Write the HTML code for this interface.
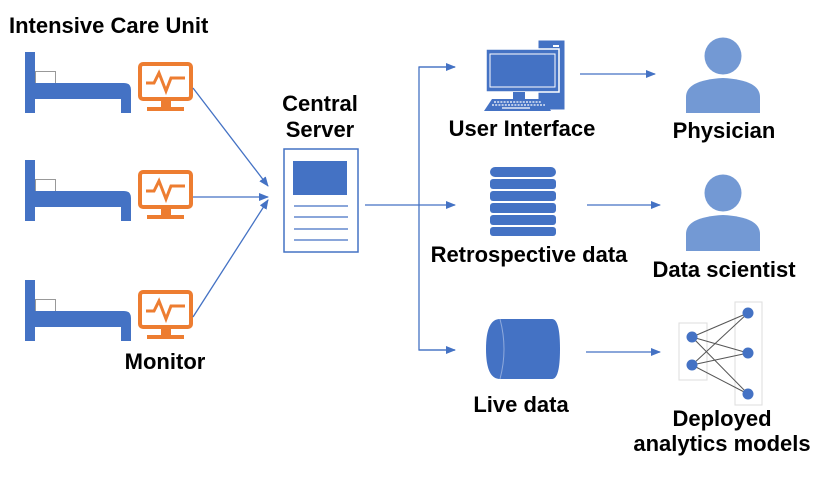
<!DOCTYPE html>
<html><head><meta charset="utf-8"><style>
html,body{margin:0;padding:0;background:#fff;width:830px;height:480px;overflow:hidden}
text{font-family:"Liberation Sans",Arial,sans-serif;font-weight:bold;font-size:22px;fill:#000}
</style></head><body>
<svg width="830" height="480" viewBox="0 0 830 480" xmlns="http://www.w3.org/2000/svg">
<defs>
<marker id="ah" markerWidth="10" markerHeight="8" refX="9" refY="4" orient="auto" markerUnits="userSpaceOnUse">
<path d="M0,0 L10,4 L0,8 Z" fill="#4472c4"/></marker>
<g id="bed">
<rect x="25" y="0" width="10" height="61" fill="#4472c4"/>
<rect x="35.5" y="19.5" width="20" height="12" fill="#fff" stroke="#999" stroke-width="1"/>
<path d="M35,31 H124 Q131,31 131,38 V47 H35 Z" fill="#4472c4"/>
<rect x="121" y="47" width="10" height="14" fill="#4472c4"/>
</g>
<g id="mon">
<rect x="140" y="14" width="51" height="35" rx="3" fill="none" stroke="#ed7d31" stroke-width="4"/>
<path d="M146,33 H154 L159,23 L166,41 L171,28 H185" fill="none" stroke="#ed7d31" stroke-width="3"/>
<rect x="161" y="50" width="10" height="8" fill="#ed7d31"/>
<rect x="147" y="57" width="37" height="4" fill="#ed7d31"/>
</g>
</defs>

<text x="9" y="33">Intensive Care Unit</text>
<g transform="translate(0,52)"><use href="#bed"/><use href="#mon" transform="translate(0,-2)"/></g>
<g transform="translate(0,160)"><use href="#bed"/><use href="#mon" transform="translate(0,-2)"/></g>
<g transform="translate(0,280)"><use href="#bed"/><use href="#mon" transform="translate(0,-2)"/></g>
<text x="165" y="369" text-anchor="middle">Monitor</text>

<g stroke="#4472c4" stroke-width="1.3" fill="none">
<line x1="193" y1="88" x2="268" y2="186" marker-end="url(#ah)"/>
<line x1="193" y1="197" x2="268" y2="197" marker-end="url(#ah)"/>
<line x1="193" y1="317" x2="268" y2="200" marker-end="url(#ah)"/>
<line x1="365" y1="205" x2="455" y2="205" marker-end="url(#ah)"/>
<polyline points="455,67 419,67 419,350 455,350" />
<line x1="419" y1="67" x2="455" y2="67" marker-end="url(#ah)"/>
<line x1="419" y1="350" x2="455" y2="350" marker-end="url(#ah)"/>
<line x1="580" y1="74" x2="655" y2="74" marker-end="url(#ah)"/>
<line x1="587" y1="205" x2="660" y2="205" marker-end="url(#ah)"/>
<line x1="586" y1="352" x2="660" y2="352" marker-end="url(#ah)"/>
</g>

<text x="320" y="111" text-anchor="middle">Central</text>
<text x="320" y="137" text-anchor="middle">Server</text>
<rect x="284" y="149" width="74" height="103" fill="#fff" stroke="#4472c4" stroke-width="1.5"/>
<rect x="293" y="161" width="54" height="34" fill="#4472c4"/>
<g stroke="#4472c4" stroke-width="1.3">
<line x1="294" y1="206" x2="348" y2="206"/><line x1="294" y1="217" x2="348" y2="217"/>
<line x1="294" y1="229" x2="348" y2="229"/><line x1="294" y1="240" x2="348" y2="240"/></g>

<!-- computer -->
<rect x="538" y="40" width="27" height="70" fill="#4472c4" stroke="#fff"/>
<rect x="553" y="45" width="6" height="2" fill="#fff"/><rect x="553" y="49" width="6" height="2" fill="#fff"/>
<rect x="486" y="49" width="73" height="43" fill="#4472c4" stroke="#fff" stroke-width="1.5"/>
<rect x="490" y="54" width="65" height="33" fill="#4472c4" stroke="#fff" stroke-width="1"/>
<rect x="513" y="92" width="12" height="7" fill="#4472c4"/>
<path d="M492,99 H544 L551,111 H484 Z" fill="#4472c4"/>
<g stroke="#fff" stroke-width="1.2" stroke-dasharray="2,1.2"><line x1="494" y1="102" x2="542" y2="102"/><line x1="492" y1="105" x2="545" y2="105"/></g>
<line x1="502" y1="108" x2="530" y2="108" stroke="#fff" stroke-width="1.2"/>
<text x="522" y="136" text-anchor="middle">User Interface</text>

<!-- database -->
<g fill="#4472c4">
<rect x="490" y="167" width="66" height="10" rx="5"/>
<rect x="490" y="179" width="66" height="10" rx="3"/>
<rect x="490" y="191" width="66" height="10" rx="3"/>
<rect x="490" y="203" width="66" height="10" rx="3"/>
<rect x="490" y="215" width="66" height="10" rx="3"/>
<rect x="490" y="227" width="66" height="9" rx="3"/>
</g>
<text x="529" y="262" text-anchor="middle">Retrospective data</text>

<!-- cylinder -->
<path d="M500,319 H552 Q560,319 560,349 Q560,379 552,379 H500 Q486,379 486,349 Q486,319 500,319 Z" fill="#4472c4"/>
<path d="M500,319 Q508,349 500,379" fill="none" stroke="#8faadc" stroke-width="1"/>
<text x="521" y="412" text-anchor="middle">Live data</text>

<!-- persons -->
<g fill="#7399d4">
<circle cx="723" cy="56" r="18.5"/>
<path d="M686,113 V97 Q686,80 723,78 Q760,80 760,97 V113 Z"/>
<circle cx="723" cy="193" r="18.5"/>
<path d="M686,251 V234 Q686,217 723,215 Q760,217 760,234 V251 Z"/>
</g>
<text x="724" y="138" text-anchor="middle">Physician</text>
<text x="724" y="277" text-anchor="middle">Data scientist</text>

<!-- NN -->
<rect x="679" y="323" width="28" height="57" fill="none" stroke="#ddd"/>
<rect x="735" y="302" width="27" height="103" fill="none" stroke="#ddd"/>
<g stroke="#555" stroke-width="1">
<line x1="692" y1="337" x2="748" y2="313"/><line x1="692" y1="337" x2="748" y2="353"/><line x1="692" y1="337" x2="748" y2="394"/>
<line x1="692" y1="365" x2="748" y2="313"/><line x1="692" y1="365" x2="748" y2="353"/><line x1="692" y1="365" x2="748" y2="394"/>
</g>
<g fill="#4472c4">
<circle cx="692" cy="337" r="5.5"/><circle cx="692" cy="365" r="5.5"/>
<circle cx="748" cy="313" r="5.5"/><circle cx="748" cy="353" r="5.5"/><circle cx="748" cy="394" r="5.5"/>
</g>
<text x="722" y="426" text-anchor="middle">Deployed</text>
<text x="722" y="451" text-anchor="middle">analytics models</text>
</svg>
</body></html>
